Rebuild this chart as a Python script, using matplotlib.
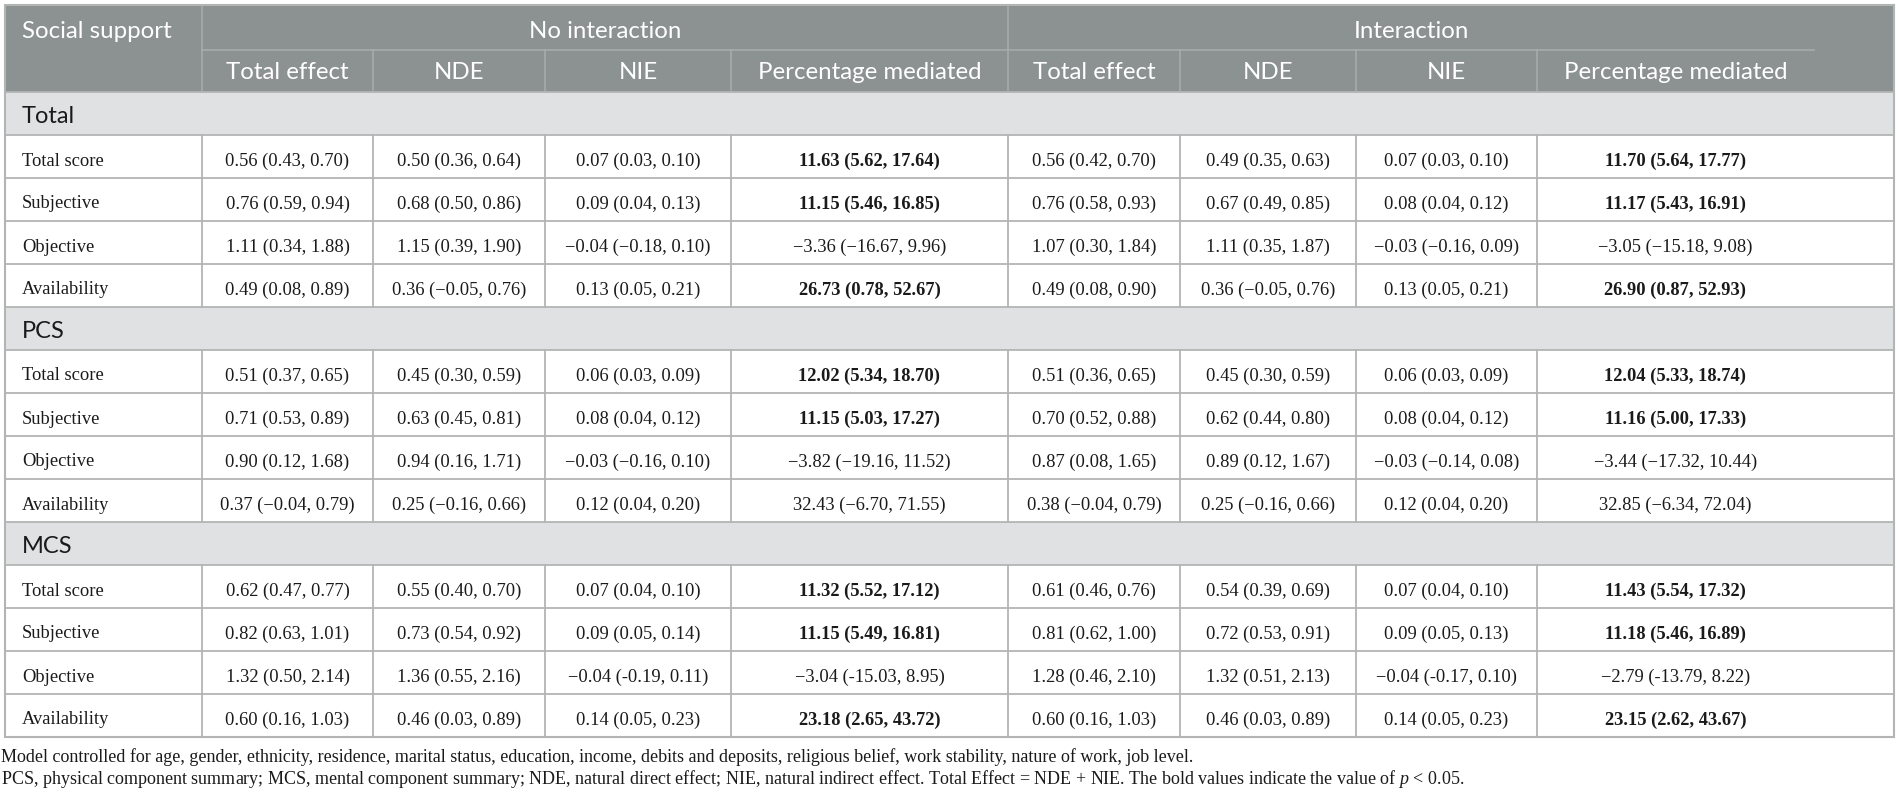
import matplotlib
matplotlib.use("Agg")
import matplotlib.pyplot as plt
from matplotlib.patches import Rectangle

plt.rcParams['mathtext.fontset'] = 'custom'
plt.rcParams['mathtext.rm'] = 'Liberation Serif'
plt.rcParams['mathtext.it'] = 'Liberation Serif:italic'

# ---------------- data ----------------
first_header = "Social support"
group_headers = ["No interaction", "Interaction"]
sub_headers = ["Total effect", "NDE", "NIE", "Percentage mediated"]
sections = ["Total", "PCS", "MCS"]
row_labels = ["Total score", "Subjective", "Objective", "Availability"]

total_no_interaction = [
    ["0.56 (0.43, 0.70)", "0.50 (0.36, 0.64)", "0.07 (0.03, 0.10)", "11.63 (5.62, 17.64)"],
    ["0.76 (0.59, 0.94)", "0.68 (0.50, 0.86)", "0.09 (0.04, 0.13)", "11.15 (5.46, 16.85)"],
    ["1.11 (0.34, 1.88)", "1.15 (0.39, 1.90)", "\u22120.04 (\u22120.18, 0.10)", "\u22123.36 (\u221216.67, 9.96)"],
    ["0.49 (0.08, 0.89)", "0.36 (\u22120.05, 0.76)", "0.13 (0.05, 0.21)", "26.73 (0.78, 52.67)"],
]
total_interaction = [
    ["0.56 (0.42, 0.70)", "0.49 (0.35, 0.63)", "0.07 (0.03, 0.10)", "11.70 (5.64, 17.77)"],
    ["0.76 (0.58, 0.93)", "0.67 (0.49, 0.85)", "0.08 (0.04, 0.12)", "11.17 (5.43, 16.91)"],
    ["1.07 (0.30, 1.84)", "1.11 (0.35, 1.87)", "\u22120.03 (\u22120.16, 0.09)", "\u22123.05 (\u221215.18, 9.08)"],
    ["0.49 (0.08, 0.90)", "0.36 (\u22120.05, 0.76)", "0.13 (0.05, 0.21)", "26.90 (0.87, 52.93)"],
]
pcs_no_interaction = [
    ["0.51 (0.37, 0.65)", "0.45 (0.30, 0.59)", "0.06 (0.03, 0.09)", "12.02 (5.34, 18.70)"],
    ["0.71 (0.53, 0.89)", "0.63 (0.45, 0.81)", "0.08 (0.04, 0.12)", "11.15 (5.03, 17.27)"],
    ["0.90 (0.12, 1.68)", "0.94 (0.16, 1.71)", "\u22120.03 (\u22120.16, 0.10)", "\u22123.82 (\u221219.16, 11.52)"],
    ["0.37 (\u22120.04, 0.79)", "0.25 (\u22120.16, 0.66)", "0.12 (0.04, 0.20)", "32.43 (\u22126.70, 71.55)"],
]
pcs_interaction = [
    ["0.51 (0.36, 0.65)", "0.45 (0.30, 0.59)", "0.06 (0.03, 0.09)", "12.04 (5.33, 18.74)"],
    ["0.70 (0.52, 0.88)", "0.62 (0.44, 0.80)", "0.08 (0.04, 0.12)", "11.16 (5.00, 17.33)"],
    ["0.87 (0.08, 1.65)", "0.89 (0.12, 1.67)", "\u22120.03 (\u22120.14, 0.08)", "\u22123.44 (\u221217.32, 10.44)"],
    ["0.38 (\u22120.04, 0.79)", "0.25 (\u22120.16, 0.66)", "0.12 (0.04, 0.20)", "32.85 (\u22126.34, 72.04)"],
]
mcs_no_interaction = [
    ["0.62 (0.47, 0.77)", "0.55 (0.40, 0.70)", "0.07 (0.04, 0.10)", "11.32 (5.52, 17.12)"],
    ["0.82 (0.63, 1.01)", "0.73 (0.54, 0.92)", "0.09 (0.05, 0.14)", "11.15 (5.49, 16.81)"],
    ["1.32 (0.50, 2.14)", "1.36 (0.55, 2.16)", "\u22120.04 (-0.19, 0.11)", "\u22123.04 (-15.03, 8.95)"],
    ["0.60 (0.16, 1.03)", "0.46 (0.03, 0.89)", "0.14 (0.05, 0.23)", "23.18 (2.65, 43.72)"],
]
mcs_interaction = [
    ["0.61 (0.46, 0.76)", "0.54 (0.39, 0.69)", "0.07 (0.04, 0.10)", "11.43 (5.54, 17.32)"],
    ["0.81 (0.62, 1.00)", "0.72 (0.53, 0.91)", "0.09 (0.05, 0.13)", "11.18 (5.46, 16.89)"],
    ["1.28 (0.46, 2.10)", "1.32 (0.51, 2.13)", "\u22120.04 (-0.17, 0.10)", "\u22122.79 (-13.79, 8.22)"],
    ["0.60 (0.16, 1.03)", "0.46 (0.03, 0.89)", "0.14 (0.05, 0.23)", "23.15 (2.62, 43.67)"],
]
# bold = percentage mediated significant (p < 0.05)
bold_total = [True, True, False, True]
bold_pcs = [True, True, False, False]
bold_mcs = [True, True, False, True]

footnotes = [
    "Model controlled for age, gender, ethnicity, residence, marital status, education, income, debits and deposits, religious belief, work stability, nature of work, job level.",
    "PCS, physical component summary; MCS, mental component summary; NDE, natural direct effect; NIE, natural indirect effect. Total Effect = NDE + NIE. The bold values indicate the value of $p$ < 0.05.",
]

section_data = [
    (total_no_interaction, total_interaction, bold_total),
    (pcs_no_interaction, pcs_interaction, bold_pcs),
    (mcs_no_interaction, mcs_interaction, bold_mcs),
]

# ---------------- layout ----------------
W, H = 1900, 795
fig = plt.figure(figsize=(W / 100, H / 100), dpi=100)
ax = fig.add_axes([0, 0, 1, 1])
ax.set_xlim(0, W)
ax.set_ylim(H, 0)
ax.axis('off')

xb = [4.5, 202, 373, 545, 731, 1008, 1180, 1356, 1537, 1894]
x_right = xb[-1]
hdr_span_end = 1814
y_top = 4.5
y_h1 = 50
y_h2 = 92
row_h = 43.0

HDR_BG = '#8c9192'
HDR_LINE = '#a9adae'
SEC_BG = '#e0e1e2'
GRID = '#b3b5b5'
HDR_FONT = 'Lato'
SERIF = 'Liberation Serif'
HDR_SIZE = 17.3
SEC_SIZE = 17.0
BODY_SIZE = 13.3
FOOT_SIZE = 13.0

# header background
ax.add_patch(Rectangle((xb[0], y_top), x_right - xb[0], y_h2 - y_top,
                       facecolor=HDR_BG, edgecolor='none', zorder=1))
# header lines
ax.plot([xb[1], xb[1]], [y_top, y_h2], color=HDR_LINE, lw=1.1, zorder=2)
ax.plot([xb[5], xb[5]], [y_top, y_h2], color=HDR_LINE, lw=1.1, zorder=2)
ax.plot([xb[1], hdr_span_end], [y_h1, y_h1], color=HDR_LINE, lw=1.1, zorder=2)
for i in (2, 3, 4, 6, 7, 8):
    ax.plot([xb[i], xb[i]], [y_h1, y_h2], color=HDR_LINE, lw=1.1, zorder=2)

def col_center(i):
    if i == 8:
        return (xb[8] + hdr_span_end) / 2
    return (xb[i] + xb[i + 1]) / 2

ax.text(22, y_top + 33, first_header, fontsize=HDR_SIZE, family=HDR_FONT,
        color='white', ha='left', va='baseline', zorder=3)
ax.text((xb[1] + xb[5]) / 2, y_top + 33, group_headers[0], fontsize=HDR_SIZE,
        family=HDR_FONT, color='white', ha='center', va='baseline', zorder=3)
ax.text((xb[5] + hdr_span_end) / 2, y_top + 33, group_headers[1], fontsize=HDR_SIZE,
        family=HDR_FONT, color='white', ha='center', va='baseline', zorder=3)
for g in range(2):
    for j, sh in enumerate(sub_headers):
        ci = 1 + g * 4 + j
        ax.text(col_center(ci), y_h1 + 29, sh, fontsize=HDR_SIZE, family=HDR_FONT,
                color='white', ha='center', va='baseline', zorder=3)

# body
y = y_h2
hlines = [y_h2]
vsegs = []
for s, (no_int, inter, bold) in zip(sections, section_data):
    ax.add_patch(Rectangle((xb[0], y), x_right - xb[0], row_h,
                           facecolor=SEC_BG, edgecolor='none', zorder=1))
    ax.text(22, y + 31, s, fontsize=SEC_SIZE, family=HDR_FONT, color='#1a1a1a',
            ha='left', va='baseline', zorder=3)
    y += row_h
    hlines.append(y)
    for r, lab in enumerate(row_labels):
        ax.text(22, y + 30.5, lab, fontsize=BODY_SIZE, family=SERIF, color='#1a1a1a',
                ha='left', va='baseline', zorder=3)
        cells = no_int[r] + inter[r]
        for j, val in enumerate(cells):
            ci = 1 + j
            is_bold = (j % 4 == 3) and bold[r]
            ax.text(col_center(ci), y + 30.5, val, fontsize=BODY_SIZE, family=SERIF,
                    color='#1a1a1a', ha='center', va='baseline',
                    fontweight='bold' if is_bold else 'normal', zorder=3)
        vsegs.append((y, y + row_h))
        y += row_h
        hlines.append(y)
y_bottom = y

for hy in hlines:
    ax.plot([xb[0], x_right], [hy, hy], color=GRID, lw=1.3, zorder=2)
for (a, b) in vsegs:
    for i in range(1, 9):
        ax.plot([xb[i], xb[i]], [a, b], color=GRID, lw=1.3, zorder=2)

# outer border
ax.add_patch(Rectangle((xb[0], y_top), x_right - xb[0], y_bottom - y_top,
                       facecolor='none', edgecolor=GRID, lw=1.5, zorder=4))

# footnotes
ax.text(1, 762, footnotes[0], fontsize=FOOT_SIZE, family=SERIF, color='#1a1a1a',
        ha='left', va='baseline')
ax.text(1, 784, footnotes[1], fontsize=FOOT_SIZE, family=SERIF, color='#1a1a1a',
        ha='left', va='baseline')

fig.savefig('out.png', dpi=100)
